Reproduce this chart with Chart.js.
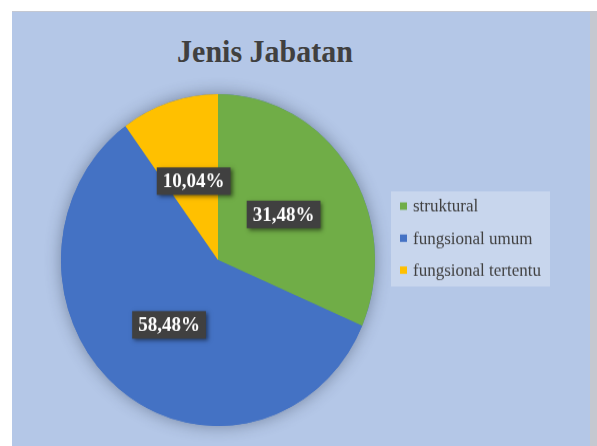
<!DOCTYPE html>
<html>
<head>
<meta charset="utf-8">
<script src="https://cdn.jsdelivr.net/npm/chart.js@4.4.0/dist/chart.umd.min.js"></script>
<style>
  html, body { margin: 0; padding: 0; background: #ffffff; }
  #wrap { position: relative; width: 597px; height: 446px; overflow: hidden; }
  #panel { position: absolute; left: 12px; top: 11px; width: 578px; height: 435px;
           background: #b4c7e7; border-top: 1px solid #c4c8d2; }
  #edge { position: absolute; left: 590px; top: 11px; width: 7px; height: 435px; background: #c5c8d0; }
  #title { position: absolute; left: 115px; width: 300px; top: 33px; text-align: center;
           font: bold 30px "Liberation Serif", "DejaVu Serif", serif; color: #404040;
           transform: scaleY(1.08); transform-origin: center top; }
  /* the picture is slightly taller than wide, so stretch the drawing */
  #chartBox { position: absolute; left: 0; top: 0; width: 597px; height: 422px;
              transform: scaleY(1.057); transform-origin: left top; }
</style>
</head>
<body>
<div id="wrap">
  <div id="panel"></div>
  <div id="edge"></div>
  <div id="title">Jenis Jabatan</div>
  <div id="chartBox"><canvas id="pieChart" width="597" height="422"></canvas></div>
</div>
<script>
// Jenis Jabatan - share per job type (percent)
const categories = ['struktural', 'fungsional umum', 'fungsional tertentu'];
const shares = [31.48, 58.48, 10.04];
const sliceColors = ['#70ad47', '#4472c4', '#ffc000'];

// soft shadow under the whole pie
const pieShadow = {
    id: 'pieShadow',
    beforeDatasetsDraw(chart) {
        const arc = chart.getDatasetMeta(0).data[0];
        if (!arc) return;
        const ctx = chart.ctx;
        ctx.save();
        ctx.shadowColor = 'rgba(40, 50, 70, 0.45)';
        ctx.shadowBlur = 16;
        ctx.beginPath();
        ctx.arc(arc.x, arc.y, arc.outerRadius, 0, Math.PI * 2);
        ctx.fillStyle = sliceColors[1];
        ctx.fill();
        ctx.restore();
    }
};

// dark boxed percentage labels in the middle of each slice
const sliceLabels = {
    id: 'sliceLabels',
    afterDatasetsDraw(chart) {
        const ctx = chart.ctx;
        const meta = chart.getDatasetMeta(0);
        ctx.save();
        ctx.font = 'bold 19px "Liberation Serif", "DejaVu Serif", serif';
        ctx.textAlign = 'center';
        ctx.textBaseline = 'middle';
        meta.data.forEach((arc, i) => {
            const mid = (arc.startAngle + arc.endAngle) / 2;
            const r = arc.outerRadius * 0.5;
            const x = arc.x + Math.cos(mid) * r;
            const y = arc.y + Math.sin(mid) * r;
            const text = shares[i].toFixed(2).replace('.', ',') + '%';
            const w = ctx.measureText(text).width + 12;
            const h = 26;
            ctx.shadowColor = 'rgba(0, 0, 0, 0.5)';
            ctx.shadowBlur = 4;
            ctx.shadowOffsetX = 2;
            ctx.shadowOffsetY = 2;
            ctx.fillStyle = '#404040';
            ctx.fillRect(x - w / 2, y - h / 2, w, h);
            ctx.shadowColor = 'transparent';
            ctx.fillStyle = '#ffffff';
            ctx.fillText(text, x, y + 1);
        });
        ctx.restore();
    }
};

// legend box on the right with lighter background
const boxLegend = {
    id: 'boxLegend',
    afterDraw(chart) {
        const ctx = chart.ctx;
        ctx.save();
        ctx.fillStyle = 'rgba(255, 255, 255, 0.27)';
        ctx.fillRect(391, 181, 159, 90);
        ctx.font = '17px "Liberation Serif", "DejaVu Serif", serif';
        ctx.textBaseline = 'middle';
        chart.data.labels.forEach((label, i) => {
            const y = 195 + i * 30.3;
            ctx.fillStyle = chart.data.datasets[0].backgroundColor[i];
            ctx.fillRect(400, y - 3.5, 7, 7);
            ctx.fillStyle = '#404040';
            ctx.fillText(label, 413, y + 1);
        });
        ctx.restore();
    }
};

new Chart(document.getElementById('pieChart').getContext('2d'), {
    type: 'pie',
    data: {
        labels: categories,
        datasets: [{
            data: shares,
            backgroundColor: sliceColors,
            borderWidth: 0
        }]
    },
    options: {
        responsive: false,
        animation: false,
        layout: { padding: { left: 46, right: 207, top: 89, bottom: 19 } },
        plugins: {
            legend: { display: false },
            tooltip: { enabled: false },
            title: { display: false }
        }
    },
    plugins: [pieShadow, sliceLabels, boxLegend]
});
</script>
</body>
</html>
